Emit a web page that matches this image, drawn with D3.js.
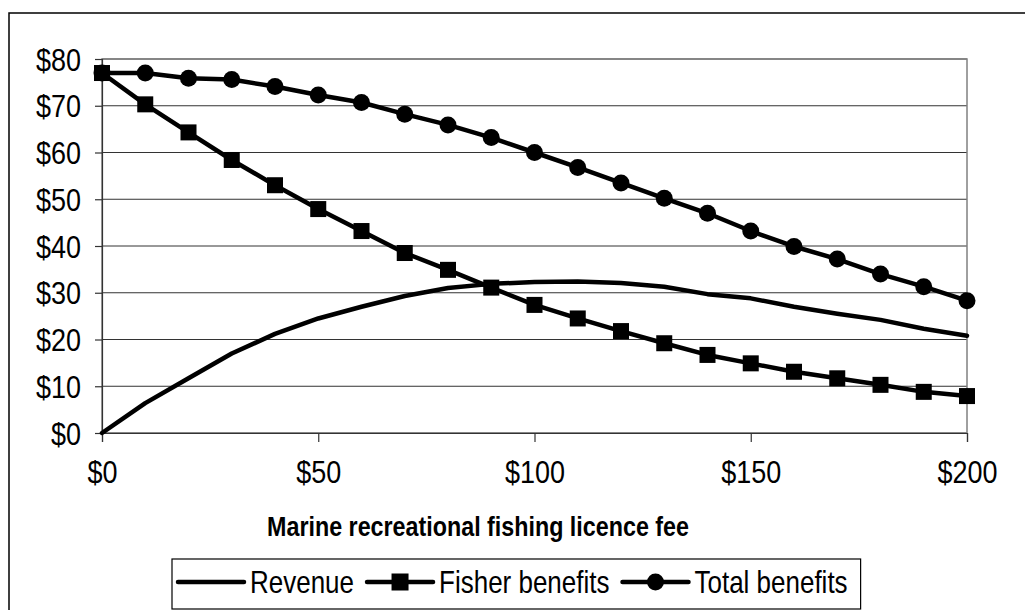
<html>
<head>
    <meta charset="UTF-8">
    <script src="https://d3js.org/d3.v7.min.js"></script>
    <title>Licence fee chart</title>
    <style>
        body { margin: 0; background: white; }
        text { font-family: "Liberation Sans", Arial, sans-serif; fill: black; }
    </style>
</head>
<body>
    <svg width="1025" height="610"></svg>
    <script>
        // data (fee in $, values in $)
        const fees = [0, 10, 20, 30, 40, 50, 60, 70, 80, 90, 100, 110, 120, 130, 140, 150, 160, 170, 180, 190, 200];
        const revenue = [0, 6.4, 11.7, 17.0, 21.2, 24.5, 27.0, 29.3, 31.0, 31.9, 32.3, 32.4, 32.1, 31.3, 29.7, 28.8, 27.0, 25.5, 24.2, 22.3, 20.8];
        const fisherBenefits = [77, 70.3, 64.3, 58.4, 53.0, 47.9, 43.2, 38.5, 34.9, 31.1, 27.4, 24.5, 21.8, 19.2, 16.7, 14.9, 13.1, 11.7, 10.3, 8.8, 7.9];
        const totalBenefits = [77, 77, 75.9, 75.6, 74.1, 72.3, 70.7, 68.2, 65.9, 63.2, 60.0, 56.8, 53.5, 50.2, 47.0, 43.2, 39.9, 37.2, 34.0, 31.3, 28.3];
        const seriesNames = ['Revenue', 'Fisher benefits', 'Total benefits'];
        const seriesMarkers = ['none', 'square', 'circle'];
        const xTicks = [0, 50, 100, 150, 200];
        const yTicks = [0, 10, 20, 30, 40, 50, 60, 70, 80];
        const xTitle = 'Marine recreational fishing licence fee';

        const stretch = 1.15; // the original text is a bit taller than plain Arial

        const svg = d3.select('svg');

        // outer chart border
        svg.append('rect')
            .attr('x', 9).attr('y', 13)
            .attr('width', 1030).attr('height', 610)
            .attr('fill', 'white')
            .attr('stroke', 'black').attr('stroke-width', 1.5);

        const x = d3.scaleLinear().domain([0, 200]).range([102, 967]);
        const y = d3.scaleLinear().domain([0, 80]).range([433, 59]);

        // gridlines
        svg.append('g')
            .selectAll('line')
            .data(yTicks)
            .join('line')
            .attr('x1', x(0)).attr('x2', x(200))
            .attr('y1', d => y(d)).attr('y2', d => y(d))
            .attr('stroke', '#333').attr('stroke-width', 1);

        // plot area border (grey)
        svg.append('rect')
            .attr('x', x(0)).attr('y', y(80))
            .attr('width', x(200) - x(0)).attr('height', y(0) - y(80))
            .attr('fill', 'none')
            .attr('stroke', '#808080').attr('stroke-width', 1.5);

        // axes
        const yAxis = svg.append('g')
            .attr('transform', `translate(${x(0)},0)`)
            .call(d3.axisLeft(y).tickValues(yTicks).tickSize(7).tickPadding(14).tickFormat(d => '$' + d));
        const xAxis = svg.append('g')
            .attr('transform', `translate(0,${y(0)})`)
            .call(d3.axisBottom(x).tickValues(xTicks).tickSize(9).tickPadding(22).tickFormat(d => '$' + d));
        [xAxis, yAxis].forEach(a => {
            a.select('.domain').attr('stroke', '#333').attr('stroke-width', 1.2);
            a.selectAll('.tick line').attr('stroke', '#333').attr('stroke-width', 1.2);
            a.selectAll('.tick text')
                .style('font-family', '"Liberation Sans", Arial, sans-serif')
                .style('font-size', '27px').attr('fill', 'black')
                .attr('dy', 0)
                .attr('transform', `scale(1,${stretch})`);
        });
        yAxis.selectAll('.tick text').attr('y', 11 / stretch);
        xAxis.selectAll('.tick text').attr('y', 50 / stretch);

        // axis title
        svg.append('g')
            .attr('transform', `translate(478,536)`)
            .append('text')
            .attr('transform', `scale(1,${stretch})`)
            .attr('text-anchor', 'middle')
            .style('font-size', '23.3px')
            .style('font-weight', 'bold')
            .text(xTitle);

        // series
        const allSeries = [revenue, fisherBenefits, totalBenefits];
        const line = d3.line()
            .x((d, i) => x(fees[i]))
            .y(d => y(d));

        function drawMarker(g, type, cx, cy, size) {
            if (type === 'square') {
                g.append('rect')
                    .attr('x', cx - size / 2).attr('y', cy - size / 2)
                    .attr('width', size).attr('height', size)
                    .attr('fill', 'black');
            } else if (type === 'circle') {
                g.append('circle')
                    .attr('cx', cx).attr('cy', cy)
                    .attr('r', size / 2)
                    .attr('fill', 'black');
            }
        }

        allSeries.forEach(function (values, s) {
            const g = svg.append('g');
            g.append('path')
                .datum(values)
                .attr('d', line)
                .attr('fill', 'none')
                .attr('stroke', 'black')
                .attr('stroke-width', 4.5)
                .attr('stroke-linejoin', 'round')
                .attr('stroke-linecap', 'round');
            values.forEach(function (v, i) {
                drawMarker(g, seriesMarkers[s], x(fees[i]), y(v), s === 1 ? 16 : 17);
            });
        });

        // legend
        const legend = svg.append('g');
        const legendBox = legend.append('rect')
            .attr('y', 559).attr('height', 50)
            .attr('fill', 'white')
            .attr('stroke', 'black').attr('stroke-width', 1.2);
        let lx = 178;
        const ly = 582;
        seriesNames.forEach(function (name, s) {
            legend.append('line')
                .attr('x1', lx).attr('x2', lx + 66)
                .attr('y1', ly).attr('y2', ly)
                .attr('stroke', 'black').attr('stroke-width', 4.5)
                .attr('stroke-linecap', 'round');
            drawMarker(legend, seriesMarkers[s], lx + 33, ly, 17);
            const t = legend.append('g')
                .attr('transform', `translate(${lx + 72},${ly + 11})`)
                .append('text')
                .attr('transform', `scale(1,${stretch + 0.03})`)
                .style('font-size', '26px')
                .text(name);
            lx += 72 + t.node().getComputedTextLength() + 13;
        });
        legendBox.attr('x', 172).attr('width', lx - 172);
    </script>
</body>
</html>
